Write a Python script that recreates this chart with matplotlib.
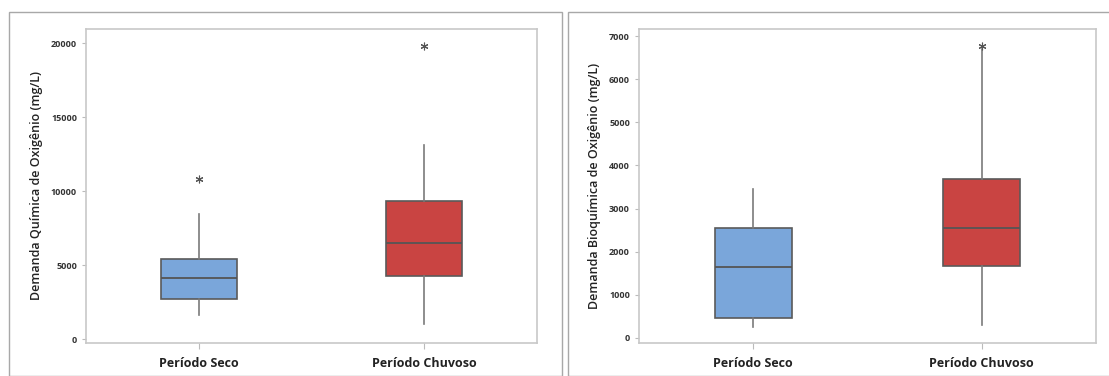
import numpy as np
import matplotlib.pyplot as plt
from matplotlib.patches import Rectangle

plt.rcParams['font.family'] = ['Open Sans', 'DejaVu Sans']

# dados (mg/L)
categorias = ['Período Seco', 'Período Chuvoso']

# DQO
dqo_whislo = [1650, 1040]
dqo_q1 = [2680, 4280]
dqo_med = [4120, 6490]
dqo_q3 = [5380, 9300]
dqo_whishi = [8470, 13130]
dqo_fliers = [[10840], [19780]]

# DBO
dbo_whislo = [246, 309]
dbo_q1 = [455, 1664]
dbo_med = [1640, 2548]
dbo_q3 = [2540, 3677]
dbo_whishi = [3450, 6700]
dbo_fliers = [[], [6760]]

cores = ['#7aa6da', '#c94442']


def monta_stats(lo, q1, med, q3, hi, fl):
    st = []
    for i in range(len(lo)):
        st.append(dict(whislo=lo[i], q1=q1[i], med=med[i], q3=q3[i],
                       whishi=hi[i], fliers=fl[i], label=categorias[i]))
    return st


fig = plt.figure(figsize=(11.09, 3.76), dpi=100)
W, H = 1109., 376.

# molduras dos paineis
fig.patches.append(Rectangle((9 / W, 0), (562 - 9) / W, 1 - 12 / H, transform=fig.transFigure,
                             fill=False, edgecolor='#a8a8a8', lw=1))
fig.patches.append(Rectangle((568 / W, 0), (1115 - 568) / W, 1 - 12 / H, transform=fig.transFigure,
                             fill=False, edgecolor='#a8a8a8', lw=1))

ax1 = fig.add_axes([86 / W, 1 - 343 / H, 451 / W, 314 / H])
ax2 = fig.add_axes([639 / W, 1 - 343 / H, 457 / W, 314 / H])

paineis = [
    (ax1, monta_stats(dqo_whislo, dqo_q1, dqo_med, dqo_q3, dqo_whishi, dqo_fliers),
     'Demanda Química de Oxigênio (mg/L)', (-270, 20950), [0, 5000, 10000, 15000, 20000]),
    (ax2, monta_stats(dbo_whislo, dbo_q1, dbo_med, dbo_q3, dbo_whishi, dbo_fliers),
     'Demanda Bioquímica de Oxigênio (mg/L)', (-116, 7165), [0, 1000, 2000, 3000, 4000, 5000, 6000, 7000]),
]

for ax, stats, ylab, ylim, yt in paineis:
    bp = ax.bxp(stats, positions=[1, 2], widths=0.335, patch_artist=True, showcaps=False,
                boxprops=dict(edgecolor='#5a5a5a', lw=1.2),
                medianprops=dict(color='#555555', lw=1.3),
                whiskerprops=dict(color='#7a7a7a', lw=1.2),
                flierprops=dict(marker=(6, 2, 0), markersize=5.5, markeredgecolor='#555555',
                                markerfacecolor='none', markeredgewidth=0.8))
    for p, c in zip(bp['boxes'], cores):
        p.set_facecolor(c)
    ax.set_xlim(0.5, 2.5)
    ax.set_ylim(*ylim)
    ax.set_yticks(yt)
    ax.set_xticks([1, 2])
    ax.set_xticklabels(categorias, fontsize=9, fontweight='bold', color='#222222')
    ax.tick_params(axis='y', labelsize=6.5, colors='#bbbbbb', labelcolor='#333333', length=3, width=0.8)
    ax.tick_params(axis='x', colors='#bbbbbb', labelcolor='#222222', length=4, width=0.8, pad=6)
    for t in ax.get_yticklabels():
        t.set_fontweight('bold')
    ax.set_ylabel(ylab, fontsize=9, fontweight='semibold', color='#222222', labelpad=6)
    for s in ax.spines.values():
        s.set_color('#c8c8c8')
        s.set_linewidth(1.2)

fig.savefig('out.png', dpi=100)
